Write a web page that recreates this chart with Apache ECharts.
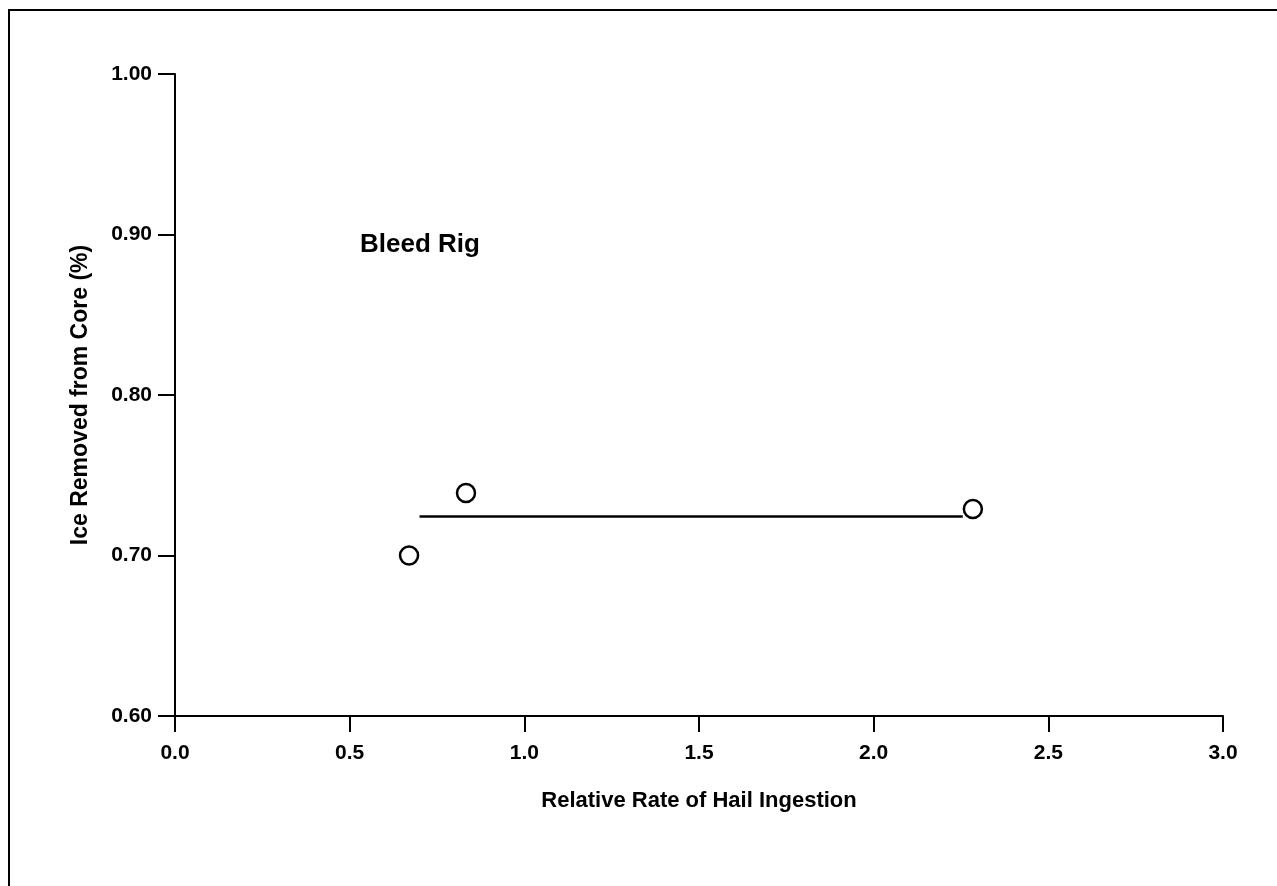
<!DOCTYPE html>
<html lang="en" style="height: 100%">

<head>
  <meta charset="UTF-8" />
  <title>Bleed Rig</title>
  <script src="https://cdn.jsdelivr.net/npm/echarts@6/dist/echarts.min.js"></script>
</head>

<body style="height: 100%; margin: 0; background: #fff">
  <div id="main" style="width: 1277px; height: 886px"></div>
  <script type="text/javascript">
    // measured points (relative rate, ice removed)
    var pointsX = [0.67, 0.833, 2.284];
    var pointsY = [0.70, 0.739, 0.729];
    // horizontal mean line
    var lineX = [0.70, 2.255];
    var lineY = [0.7243, 0.7243];
    var xTicks = [0, 3, 0.5];   // min, max, step
    var yTicks = [0.6, 1.0, 0.1];

    var fontFam = '"Liberation Sans", Arial, sans-serif';
    var myChart = echarts.init(document.getElementById('main'));

    var option = {
      animation: false,
      backgroundColor: '#fff',
      grid: { left: 175, right: 54, top: 74, bottom: 170 },
      graphic: [{
        // page frame (top and left edges only)
        type: 'polyline',
        shape: { points: [[9, 886], [9, 10], [1277, 10]] },
        style: { stroke: '#000', lineWidth: 2, fill: null }
      }, {
        type: 'text',
        left: 360, top: 232,
        style: { text: 'Bleed Rig', font: 'bold 26px ' + fontFam, fill: '#000' }
      }],
      xAxis: {
        type: 'value',
        min: xTicks[0], max: xTicks[1], interval: xTicks[2],
        name: 'Relative Rate of Hail Ingestion',
        nameLocation: 'middle',
        nameGap: 74,
        nameTextStyle: { fontFamily: fontFam, fontWeight: 'bold', fontSize: 22, color: '#000' },
        axisLine: { lineStyle: { color: '#000', width: 2 } },
        axisTick: { length: 16, lineStyle: { color: '#000', width: 2 } },
        axisLabel: {
          margin: 27, color: '#000', fontFamily: fontFam, fontWeight: 'bold', fontSize: 21,
          formatter: function (v) { return v.toFixed(1); }
        },
        splitLine: { show: false }
      },
      yAxis: {
        type: 'value',
        min: yTicks[0], max: yTicks[1], interval: yTicks[2],
        name: 'Ice Removed from Core (%)',
        nameLocation: 'middle',
        nameGap: 83,
        nameTextStyle: { fontFamily: fontFam, fontWeight: 'bold', fontSize: 23, color: '#000' },
        axisLine: { show: true, lineStyle: { color: '#000', width: 2 } },
        axisTick: { show: true, length: 17, lineStyle: { color: '#000', width: 2 } },
        axisLabel: {
          margin: 23, color: '#000', fontFamily: fontFam, fontWeight: 'bold', fontSize: 21,
          formatter: function (v) { return v.toFixed(2); }
        },
        splitLine: { show: false }
      },
      series: [{
        type: 'line',
        data: lineX.map(function (x, i) { return [x, lineY[i]]; }),
        showSymbol: false,
        lineStyle: { color: '#000', width: 2.5 },
        z: 2
      }, {
        type: 'scatter',
        data: pointsX.map(function (x, i) { return [x, pointsY[i]]; }),
        symbol: 'circle',
        symbolSize: 18,
        itemStyle: { color: '#fff', borderColor: '#000', borderWidth: 2.5, opacity: 1 },
        z: 3
      }]
    };
    myChart.setOption(option);
  </script>
</body>

</html>
